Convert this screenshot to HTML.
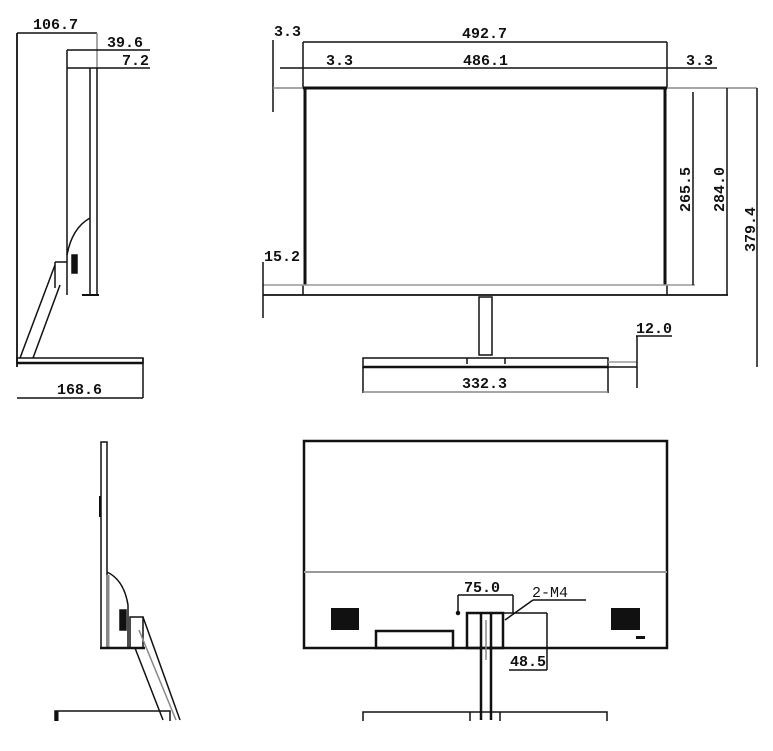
<!DOCTYPE html>
<html><head><meta charset="utf-8"><style>
html,body{margin:0;padding:0;background:#fff;}
svg{display:block;}
text{font-family:"Liberation Mono",monospace;font-weight:bold;font-size:15px;fill:#111;}
</style></head><body>
<svg width="773" height="751" viewBox="0 0 773 751" xmlns="http://www.w3.org/2000/svg" stroke="#111" fill="none" stroke-width="1.5">
<line x1="17" y1="33" x2="17" y2="367" stroke-width="1.8"/>
<line x1="17" y1="33" x2="97" y2="33"/>
<line x1="97" y1="33" x2="97" y2="68" stroke="#888"/>
<text x="33" y="29" stroke="none">106.7</text>
<line x1="67" y1="50" x2="150" y2="50"/>
<text x="107" y="47" stroke="none">39.6</text>
<line x1="67" y1="68" x2="150" y2="68"/>
<text x="122" y="65" stroke="none">7.2</text>
<line x1="67" y1="50" x2="67" y2="295"/>
<line x1="90" y1="68" x2="90" y2="295"/>
<line x1="97" y1="68" x2="97" y2="295"/>
<line x1="82" y1="295" x2="99" y2="295" stroke-width="2"/>
<path d="M90 218 Q72 228 67 255"/>
<rect x="72" y="255" width="5" height="18" fill="#111"/>
<line x1="55" y1="262" x2="67" y2="262"/>
<line x1="55" y1="262" x2="55" y2="288"/>
<line x1="55" y1="265" x2="20" y2="358"/>
<line x1="60" y1="285" x2="33" y2="358"/>
<rect x="17" y="358" width="126" height="5" stroke-width="1.5"/>
<line x1="17" y1="363" x2="143" y2="363" stroke-width="2.5"/>
<line x1="143" y1="358" x2="143" y2="398"/>
<line x1="17" y1="398" x2="143" y2="398"/>
<text x="57" y="394" stroke="none">168.6</text>

<line x1="273" y1="40" x2="273" y2="112"/>
<text x="274" y="36" stroke="none">3.3</text>
<line x1="303" y1="42" x2="667" y2="42"/>
<line x1="303" y1="42" x2="303" y2="88"/><line x1="667" y1="42" x2="667" y2="88"/>
<text x="462" y="38" stroke="none">492.7</text>
<line x1="280" y1="68" x2="717" y2="68"/>
<text x="326" y="65" stroke="none">3.3</text>
<text x="463" y="65" stroke="none">486.1</text>
<text x="686" y="65" stroke="none">3.3</text>
<line x1="273" y1="88" x2="757" y2="88" stroke="#888"/>
<line x1="303" y1="88" x2="667" y2="88" stroke-width="3"/>
<line x1="305" y1="88" x2="305" y2="285" stroke-width="3"/>
<line x1="665" y1="88" x2="665" y2="285" stroke-width="3"/>
<line x1="303" y1="285" x2="303" y2="295"/><line x1="667" y1="285" x2="667" y2="295"/>
<line x1="263" y1="285" x2="695" y2="285" stroke="#999"/>
<line x1="263" y1="295" x2="728" y2="295" stroke-width="1.8"/>
<line x1="693" y1="92" x2="693" y2="285"/>
<text transform="translate(690 190) rotate(-90)" x="-22" y="0" stroke="none">265.5</text>
<line x1="727" y1="88" x2="727" y2="295"/>
<text transform="translate(724 190) rotate(-90)" x="-22" y="0" stroke="none">284.0</text>
<line x1="757" y1="88" x2="757" y2="367"/>
<text transform="translate(755 230) rotate(-90)" x="-22" y="0" stroke="none">379.4</text>
<text x="264" y="261" stroke="none">15.2</text>
<line x1="263" y1="262" x2="263" y2="318"/>
<rect x="479" y="297" width="13" height="58"/>
<rect x="363" y="358" width="245" height="9"/>
<line x1="363" y1="367" x2="608" y2="367" stroke-width="2.5"/>
<line x1="467" y1="358" x2="467" y2="364"/><line x1="505" y1="358" x2="505" y2="364"/>
<line x1="608" y1="362" x2="637" y2="362" stroke="#999"/>
<line x1="608" y1="367" x2="637" y2="367"/>
<line x1="363" y1="367" x2="363" y2="393"/><line x1="608" y1="367" x2="608" y2="393"/>
<line x1="363" y1="392" x2="608" y2="392" stroke="#888"/>
<text x="462" y="388" stroke="none">332.3</text>
<text x="636" y="333" stroke="none">12.0</text>
<line x1="636" y1="336" x2="672" y2="336"/>
<line x1="637" y1="336" x2="637" y2="388"/>

<rect x="101" y="442" width="6" height="206"/>
<line x1="100" y1="496" x2="100" y2="517" stroke-width="2"/>
<path d="M107 572 Q124 580 128 605 L128 648"/>
<line x1="108" y1="575" x2="108" y2="648" stroke="#888" stroke-width="3"/>
<rect x="120" y="610" width="6" height="20" fill="#111"/>
<line x1="100" y1="648" x2="145" y2="648" stroke-width="2.5"/>
<rect x="130" y="617" width="13" height="31"/>
<line x1="143" y1="617" x2="180" y2="720"/>
<line x1="139" y1="630" x2="176" y2="720" stroke="#888"/>
<line x1="135" y1="648" x2="163" y2="720"/>
<rect x="55" y="711" width="115" height="12"/>
<line x1="57" y1="711" x2="57" y2="723" stroke-width="3"/>

<rect x="304" y="441" width="363" height="207" stroke-width="2.5"/>
<line x1="304" y1="572" x2="667" y2="572" stroke="#999" stroke-width="2"/>
<rect x="331" y="608" width="28" height="22" fill="#111" stroke="none"/>
<rect x="611" y="608" width="29" height="22" fill="#111" stroke="none"/>
<rect x="636" y="636" width="9" height="3" fill="#111" stroke="none"/>
<rect x="376" y="631" width="77" height="17" stroke-width="2.5"/>
<text x="464" y="592" stroke="none">75.0</text>
<line x1="458" y1="595" x2="513" y2="595"/>
<line x1="458" y1="595" x2="458" y2="613"/><line x1="513" y1="595" x2="513" y2="613"/>
<circle cx="458" cy="613" r="1.5" fill="#111"/>
<rect x="467" y="613" width="36" height="35" stroke-width="2.5"/>
<line x1="481" y1="613" x2="481" y2="720" stroke-width="2.5"/>
<line x1="491" y1="613" x2="491" y2="720" stroke-width="2.5"/>
<line x1="486" y1="620" x2="486" y2="660" stroke="#888"/>
<line x1="505" y1="620" x2="533" y2="600"/>
<text x="532" y="597" stroke="none" style="font-weight:normal">2-M4</text>
<line x1="533" y1="600" x2="586" y2="600"/>
<line x1="503" y1="613" x2="547" y2="613"/>
<line x1="547" y1="613" x2="547" y2="670"/>
<text x="510" y="666" stroke="none">48.5</text>
<line x1="509" y1="670" x2="547" y2="670"/>
<rect x="363" y="712" width="244" height="10"/>
<line x1="470" y1="712" x2="470" y2="722"/><line x1="500" y1="712" x2="500" y2="722"/>
<rect x="0" y="721" width="773" height="30" fill="#fff" stroke="none"/>
</svg>
</body></html>
